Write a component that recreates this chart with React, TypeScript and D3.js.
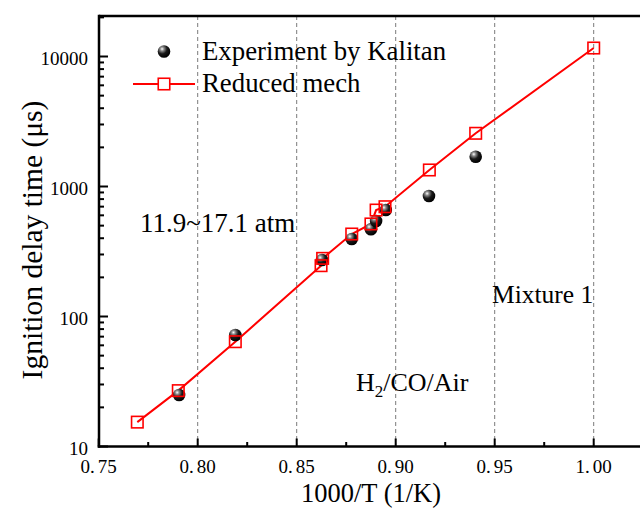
import React from "react";
import * as d3 from "d3";

const mechX = [0.7695, 0.7902, 0.819, 0.8623, 0.8631, 0.8778, 0.8875, 0.8901, 0.8946, 0.917, 0.9404, 1.0];
const mechY = [15.4, 26.9, 64.0, 246, 280, 431, 515, 659, 699, 1340, 2566, 11620];

const expX = [0.7906, 0.819, 0.8628, 0.8778, 0.8875, 0.8901, 0.895, 0.9168, 0.9404];
const expY = [24.9, 72.1, 272, 395, 469, 543, 659, 845, 1695];

const xTicks = [0.75, 0.8, 0.85, 0.9, 0.95, 1.0];
const xMinorTicks = [0.775, 0.825, 0.875, 0.925, 0.975, 1.025];
const gridTicks = [0.8, 0.85, 0.9, 0.95, 1.0];
const yTicks = [10, 100, 1000, 10000];

const FONT = '"Liberation Serif", Tinos, "Times New Roman", "DejaVu Serif", serif';
const ts = { fontFamily: FONT };

export default function App() {
  const left = 99;
  const top = 16;
  const bottom = 446.5;
  const x = d3.scaleLinear().domain([0.75, 1.0]).range([98.7, 593.7]);
  const y = d3.scaleLog().domain([10, 10000]).range([446.5, 56.5]);

  const yMinor: number[] = [];
  for (let dec = 10; dec <= 10000; dec *= 10) {
    for (let k = 2; k <= 9; k++) {
      const v = dec * k;
      if (y(v) >= top) yMinor.push(v);
    }
  }

  const mech = mechX.map((v, i) => [v, mechY[i]] as [number, number]);
  const line = d3
    .line<[number, number]>()
    .x((d) => x(d[0]))
    .y((d) => y(d[1]));

  const sq = 11.5;

  return (
    <svg
      width={640}
      height={510}
      style={{ position: "absolute", left: 0, top: 0, background: "#fff", fontFamily: FONT }}
    >
      <defs>
        <radialGradient id="ball" cx="35%" cy="30%" r="70%" fx="35%" fy="30%">
          <stop offset="0%" stopColor="#ffffff" />
          <stop offset="22%" stopColor="#8a8a8a" />
          <stop offset="55%" stopColor="#1a1a1a" />
          <stop offset="100%" stopColor="#000000" />
        </radialGradient>
        <clipPath id="plotclip">
          <rect x={left} y={top} width={640 - left} height={bottom - top} />
        </clipPath>
      </defs>
      <rect x={0} y={0} width={640} height={510} fill="#fff" />

      {gridTicks.map((t) => (
        <line
          key={"g" + t}
          x1={x(t)}
          x2={x(t)}
          y1={top}
          y2={bottom}
          stroke="#7a7a7a"
          strokeWidth={1}
          strokeDasharray="4,3"
        />
      ))}

      <g clipPath="url(#plotclip)">
        <path d={line(mech) || ""} fill="none" stroke="#ff0000" strokeWidth={2} />
      </g>

      {expX.map((v, i) => (
        <circle key={"e" + i} cx={x(v)} cy={y(expY[i])} r={6.3} fill="url(#ball)" />
      ))}

      {mech.map((d, i) => (
        <rect
          key={"m" + i}
          x={x(d[0]) - sq / 2}
          y={y(d[1]) - sq / 2}
          width={sq}
          height={sq}
          fill="none"
          stroke="#ff0000"
          strokeWidth={1.6}
        />
      ))}

      <line x1={left} x2={640} y1={top} y2={top} stroke="#000" strokeWidth={2.5} />
      <line x1={left} x2={left} y1={top - 1.25} y2={bottom + 1.25} stroke="#000" strokeWidth={2.5} />
      <line x1={left - 1.25} x2={640} y1={bottom} y2={bottom} stroke="#000" strokeWidth={2.5} />

      {xTicks.map((t) => (
        <line key={"xt" + t} x1={x(t)} x2={x(t)} y1={bottom} y2={bottom - 8} stroke="#000" strokeWidth={2} />
      ))}
      {xMinorTicks.map((t) => (
        <line key={"xm" + t} x1={x(t)} x2={x(t)} y1={bottom} y2={bottom - 4.5} stroke="#000" strokeWidth={2} />
      ))}
      {xTicks.map((t) => {
        const s = t.toFixed(2);
        return (
          <text key={"xl" + t} x={x(t)} y={473} fontSize={19} textAnchor="middle" fill="#000" style={ts}>
            {s.slice(0, 2)}
            <tspan dx={3}>{s.slice(2)}</tspan>
          </text>
        );
      })}

      {yTicks.map((t) => (
        <line key={"yt" + t} x1={left} x2={left + 9} y1={y(t)} y2={y(t)} stroke="#000" strokeWidth={2} />
      ))}
      {yMinor.map((t) => (
        <line key={"ym" + t} x1={left} x2={left + 5} y1={y(t)} y2={y(t)} stroke="#000" strokeWidth={2} />
      ))}
      {yTicks.map((t) => (
        <text key={"yl" + t} x={88} y={y(t) + 8.5} fontSize={19} textAnchor="end" fill="#000" style={ts}>
          {String(t)}
        </text>
      ))}

      <text x={371} y={502} fontSize={26.5} textAnchor="middle" fill="#000" style={ts}>
        1000/T (1/K)
      </text>
      <text transform="translate(42, 240) rotate(-90)" fontSize={29.5} textAnchor="middle" fill="#000" style={ts}>
        Ignition delay time (μs)
      </text>

      <circle cx={164} cy={51.5} r={6.3} fill="url(#ball)" />
      <text x={202} y={60} fontSize={26.8} fill="#000" style={ts}>
        Experiment by Kalitan
      </text>
      <line x1={133} x2={195} y1={84} y2={84} stroke="#ff0000" strokeWidth={2} />
      <rect x={164 - sq / 2} y={84 - sq / 2} width={sq} height={sq} fill="#fff" stroke="#ff0000" strokeWidth={1.6} />
      <text x={202} y={92} fontSize={26.8} fill="#000" style={ts}>
        Reduced mech
      </text>

      <text x={140} y={232} fontSize={27} fill="#000" style={ts}>
        11.9~17.1 atm
      </text>
      <text x={492} y={303} fontSize={25.5} fill="#000" style={ts}>
        Mixture 1
      </text>
      <text x={356} y={391} fontSize={26} fill="#000" style={ts}>
        H<tspan fontSize={17} dy={6}>2</tspan>
        <tspan dy={-6}>/CO/Air</tspan>
      </text>
    </svg>
  );
}
